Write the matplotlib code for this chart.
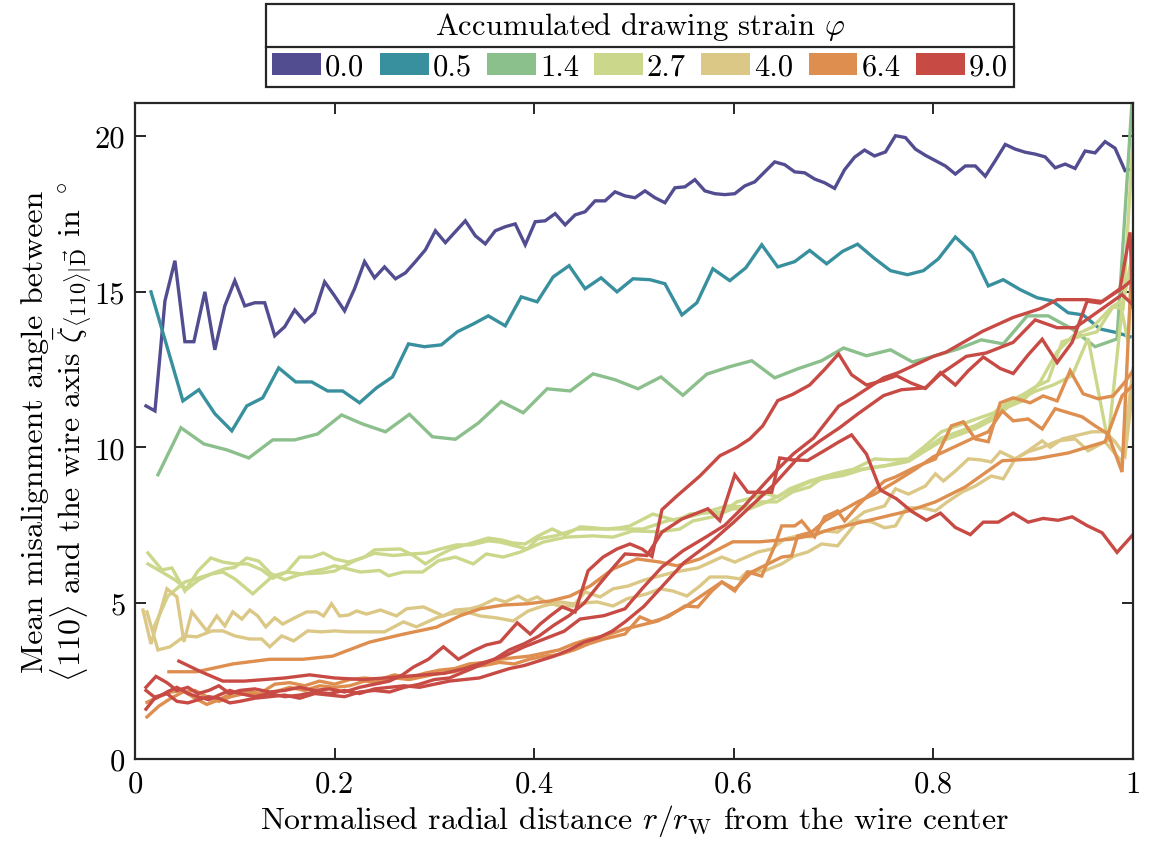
import matplotlib
matplotlib.use("Agg")
import matplotlib.pyplot as plt
from matplotlib.patches import Patch
from matplotlib.lines import Line2D

plt.rcParams['font.family'] = 'serif'
plt.rcParams['font.serif'] = ['cmr10']
plt.rcParams['mathtext.fontset'] = 'cm'
plt.rcParams['axes.formatter.use_mathtext'] = True

# ---- data: (r/rW, mean misalignment angle) ----
strains = ['0.0', '0.5', '1.4', '2.7', '4.0', '6.4', '9.0']
colors = ['#524c91', '#38909f', '#8bbf8b', '#cbd78a', '#dcc886', '#de8e4f', '#c84a44']

phi_00 = [(0.011, 11.33), (0.020, 11.17), (0.030, 14.70), (0.040, 15.99), (0.050, 13.39), (0.059, 13.39),
          (0.070, 14.99), (0.080, 13.13), (0.090, 14.54), (0.100, 15.35), (0.110, 14.54), (0.120, 14.64),
          (0.130, 14.64), (0.140, 13.58), (0.150, 13.87), (0.160, 14.41), (0.170, 14.03), (0.180, 14.32),
          (0.190, 15.31), (0.200, 14.86), (0.210, 14.38), (0.220, 15.09), (0.230, 15.96), (0.240, 15.44),
          (0.250, 15.79), (0.261, 15.41), (0.271, 15.60), (0.281, 15.96), (0.291, 16.34), (0.301, 16.95),
          (0.311, 16.57), (0.321, 16.92), (0.331, 17.27), (0.341, 16.79), (0.351, 16.53), (0.361, 16.95),
          (0.371, 17.08), (0.381, 17.17), (0.391, 16.50), (0.401, 17.24), (0.411, 17.27), (0.421, 17.50),
          (0.431, 17.14), (0.441, 17.46), (0.451, 17.56), (0.461, 17.91), (0.471, 17.91), (0.481, 18.20),
          (0.491, 18.07), (0.501, 18.01), (0.511, 18.23), (0.521, 18.01), (0.531, 17.85), (0.541, 18.33),
          (0.551, 18.36), (0.561, 18.59), (0.571, 18.23), (0.581, 18.14), (0.591, 18.11), (0.601, 18.14),
          (0.611, 18.39), (0.621, 18.52), (0.631, 18.84), (0.641, 19.16), (0.651, 19.07), (0.661, 18.84),
          (0.671, 18.81), (0.681, 18.61), (0.691, 18.49), (0.701, 18.31), (0.711, 18.91), (0.721, 19.31),
          (0.731, 19.54), (0.741, 19.35), (0.752, 19.48), (0.762, 20.00), (0.772, 19.94), (0.782, 19.57),
          (0.792, 19.37), (0.802, 19.20), (0.812, 19.03), (0.822, 18.77), (0.832, 19.03), (0.842, 19.03),
          (0.852, 18.70), (0.862, 19.20), (0.872, 19.72), (0.882, 19.57), (0.892, 19.47), (0.902, 19.41),
          (0.912, 19.32), (0.922, 18.97), (0.932, 19.09), (0.942, 18.95), (0.952, 19.51), (0.962, 19.45),
          (0.972, 19.81), (0.982, 19.60), (0.992, 18.88), (1.000, 18.94)]

phi_05 = [(0.016, 14.99), (0.048, 11.49), (0.064, 11.85), (0.080, 11.08), (0.097, 10.53), (0.112, 11.33),
          (0.128, 11.59), (0.144, 12.55), (0.161, 12.10), (0.177, 12.10), (0.193, 11.81), (0.208, 11.81),
          (0.225, 11.43), (0.242, 11.91), (0.258, 12.26), (0.274, 13.32), (0.290, 13.23), (0.307, 13.29),
          (0.323, 13.71), (0.339, 13.96), (0.354, 14.22), (0.371, 13.90), (0.387, 14.83), (0.403, 14.67),
          (0.419, 15.47), (0.435, 15.83), (0.451, 15.09), (0.467, 15.44), (0.483, 14.99), (0.499, 15.41),
          (0.516, 15.38), (0.531, 15.25), (0.548, 14.25), (0.563, 14.64), (0.579, 15.73), (0.596, 15.35),
          (0.612, 15.76), (0.628, 16.50), (0.644, 15.79), (0.661, 15.96), (0.676, 16.32), (0.693, 15.89),
          (0.709, 16.29), (0.724, 16.52), (0.741, 16.06), (0.757, 15.67), (0.774, 15.54), (0.790, 15.67),
          (0.805, 16.05), (0.822, 16.75), (0.839, 16.24), (0.855, 15.18), (0.870, 15.38), (0.887, 15.06),
          (0.904, 14.80), (0.919, 14.70), (0.935, 14.32), (0.950, 14.25), (0.967, 13.80), (0.984, 13.68),
          (0.997, 13.55)]

phi_14 = [(0.023, 9.12), (0.046, 10.63), (0.069, 10.11), (0.092, 9.92), (0.114, 9.66), (0.138, 10.24),
          (0.160, 10.24), (0.183, 10.43), (0.207, 11.04), (0.228, 10.75), (0.251, 10.50), (0.275, 11.06),
          (0.298, 10.34), (0.321, 10.26), (0.344, 10.78), (0.367, 11.47), (0.389, 11.11), (0.413, 11.88),
          (0.436, 11.81), (0.459, 12.36), (0.481, 12.17), (0.504, 11.88), (0.527, 12.26), (0.549, 11.67),
          (0.573, 12.35), (0.595, 12.58), (0.618, 12.78), (0.641, 12.23), (0.664, 12.52), (0.688, 12.78),
          (0.710, 13.19), (0.733, 12.94), (0.757, 13.13), (0.779, 12.74), (0.802, 12.94), (0.825, 13.16),
          (0.848, 13.45), (0.870, 13.32), (0.894, 14.22), (0.915, 14.22), (0.939, 13.80), (0.962, 13.23),
          (0.984, 13.48), (1.000, 21.60)]

phi_27_a = [(0.013, 6.61), (0.027, 6.07), (0.037, 6.13), (0.050, 5.39), (0.063, 6.03), (0.076, 6.45),
            (0.088, 6.32), (0.100, 6.26), (0.113, 6.26), (0.127, 6.07), (0.138, 5.80), (0.152, 6.00),
            (0.165, 6.48), (0.177, 6.48), (0.189, 6.61), (0.200, 6.42), (0.214, 6.32), (0.230, 6.48),
            (0.240, 6.71), (0.266, 6.74), (0.279, 6.53), (0.291, 6.26), (0.304, 6.53), (0.317, 6.74),
            (0.334, 6.90), (0.354, 7.09), (0.367, 7.03), (0.379, 6.93), (0.391, 6.90), (0.404, 7.16),
            (0.418, 7.38), (0.431, 7.19), (0.446, 7.45), (0.459, 7.42), (0.473, 7.38), (0.486, 7.42),
            (0.496, 7.48), (0.519, 7.86), (0.543, 7.64), (0.556, 7.86), (0.589, 7.93), (0.603, 8.25),
            (0.633, 8.51), (0.644, 8.41), (0.656, 8.67), (0.676, 8.92), (0.700, 9.15), (0.720, 9.30),
            (0.741, 9.63), (0.758, 9.60), (0.775, 9.63), (0.790, 10.00), (0.808, 10.50), (0.825, 10.70),
            (0.842, 10.90), (0.860, 11.10), (0.875, 11.46), (0.890, 11.70), (0.902, 11.94), (0.915, 12.14),
            (0.929, 13.39), (0.949, 13.58), (0.964, 13.71), (0.980, 14.51), (0.990, 14.45), (1.000, 19.90)]

phi_27_b = [(0.013, 6.26), (0.027, 6.00), (0.040, 5.75), (0.052, 5.45), (0.064, 5.75), (0.077, 5.95),
            (0.090, 6.10), (0.100, 6.15), (0.112, 6.45), (0.124, 6.35), (0.136, 5.95), (0.150, 5.75),
            (0.163, 5.90), (0.175, 6.00), (0.190, 6.10), (0.200, 6.20), (0.213, 6.10), (0.226, 6.00),
            (0.245, 6.05), (0.254, 5.88), (0.269, 6.00), (0.288, 6.00), (0.304, 6.36), (0.321, 6.48),
            (0.339, 6.26), (0.352, 6.58), (0.369, 6.48), (0.386, 6.64), (0.409, 6.96), (0.432, 7.12),
            (0.459, 7.16), (0.479, 7.12), (0.499, 7.32), (0.526, 7.29), (0.546, 7.38), (0.559, 7.64),
            (0.579, 7.77), (0.599, 8.03), (0.616, 8.03), (0.633, 8.25), (0.653, 8.57), (0.676, 8.89),
            (0.691, 9.00), (0.710, 9.10), (0.730, 9.30), (0.751, 9.40), (0.775, 9.60), (0.790, 9.90),
            (0.808, 10.30), (0.825, 10.50), (0.842, 10.70), (0.860, 11.00), (0.875, 11.40), (0.890, 11.60),
            (0.902, 11.80), (0.920, 12.00), (0.939, 12.30), (0.955, 13.50), (0.975, 10.18), (0.989, 14.45),
            (1.000, 16.30)]

phi_27_c = [(0.018, 4.17), (0.033, 5.23), (0.050, 5.68), (0.077, 5.94), (0.088, 6.00), (0.100, 5.78),
            (0.118, 5.30), (0.138, 5.87), (0.152, 6.00), (0.167, 5.94), (0.187, 5.97), (0.200, 6.03),
            (0.220, 6.36), (0.240, 6.60), (0.259, 6.53), (0.277, 6.58), (0.292, 6.61), (0.306, 6.74),
            (0.322, 6.87), (0.337, 6.87), (0.354, 7.00), (0.366, 6.96), (0.393, 6.74), (0.403, 7.06),
            (0.421, 7.16), (0.443, 7.38), (0.476, 7.38), (0.509, 7.38), (0.533, 7.64), (0.559, 7.80),
            (0.593, 8.12), (0.613, 8.09), (0.626, 8.25), (0.643, 8.25), (0.659, 8.57), (0.676, 8.73),
            (0.690, 9.05), (0.705, 9.10), (0.720, 9.25), (0.741, 9.37), (0.760, 9.45), (0.775, 9.55),
            (0.790, 9.85), (0.808, 10.20), (0.825, 10.40), (0.842, 10.60), (0.860, 10.90), (0.875, 11.30),
            (0.890, 11.50), (0.907, 12.10), (0.924, 13.07), (0.940, 13.58), (0.960, 13.87), (0.979, 14.51),
            (0.987, 14.67), (0.995, 13.39), (1.000, 16.00)]

phi_40_a = [(0.008, 4.78), (0.016, 3.69), (0.032, 5.46), (0.042, 5.20), (0.049, 3.76), (0.057, 4.72),
            (0.072, 4.11), (0.082, 4.59), (0.090, 4.27), (0.098, 4.72), (0.107, 4.49), (0.115, 4.78),
            (0.123, 4.59), (0.131, 4.24), (0.140, 4.53), (0.148, 4.33), (0.160, 4.53), (0.172, 4.72),
            (0.182, 4.72), (0.189, 4.59), (0.197, 4.98), (0.205, 4.59), (0.214, 4.62), (0.222, 4.75),
            (0.232, 4.65), (0.246, 4.78), (0.262, 4.59), (0.272, 4.82), (0.289, 4.88), (0.309, 4.59),
            (0.321, 4.78), (0.336, 4.82), (0.346, 4.91), (0.361, 5.14), (0.371, 5.04), (0.384, 5.23),
            (0.393, 5.07), (0.403, 5.20), (0.413, 5.01), (0.426, 4.91), (0.439, 4.91), (0.451, 5.36),
            (0.466, 5.20), (0.479, 5.46), (0.494, 5.55), (0.511, 5.75), (0.541, 6.00), (0.564, 6.13),
            (0.588, 6.48), (0.601, 6.32), (0.624, 6.64), (0.638, 6.74), (0.651, 7.06), (0.664, 7.16),
            (0.678, 7.13), (0.691, 7.32), (0.704, 7.28), (0.731, 7.93), (0.751, 8.12), (0.762, 8.67),
            (0.775, 8.50), (0.792, 8.76), (0.802, 9.15), (0.810, 8.92), (0.822, 9.24), (0.835, 9.63),
            (0.847, 9.60), (0.858, 9.53), (0.867, 9.86), (0.882, 9.63), (0.895, 9.89), (0.909, 10.21),
            (0.917, 10.00), (0.929, 10.27), (0.942, 10.37), (0.959, 10.50), (0.972, 10.50), (0.982, 10.18),
            (0.992, 9.73), (1.000, 11.97)]

phi_40_b = [(0.012, 4.72), (0.023, 3.50), (0.035, 3.60), (0.050, 3.95), (0.062, 3.92), (0.077, 4.11),
            (0.088, 4.11), (0.100, 3.95), (0.115, 3.85), (0.127, 3.85), (0.135, 3.60), (0.147, 3.95),
            (0.159, 3.79), (0.173, 4.11), (0.187, 4.08), (0.200, 4.11), (0.214, 4.08), (0.233, 4.08),
            (0.250, 4.08), (0.269, 4.40), (0.282, 4.24), (0.302, 4.53), (0.315, 4.65), (0.332, 4.72),
            (0.346, 4.59), (0.362, 4.53), (0.379, 4.43), (0.394, 4.75), (0.409, 4.91), (0.426, 5.04),
            (0.439, 4.98), (0.463, 5.04), (0.479, 4.91), (0.493, 5.14), (0.513, 5.30), (0.526, 5.46),
            (0.539, 5.39), (0.553, 5.23), (0.566, 5.55), (0.576, 5.84), (0.593, 5.84), (0.606, 5.78),
            (0.613, 6.00), (0.631, 6.04), (0.648, 6.26), (0.661, 6.52), (0.674, 6.64), (0.688, 6.90),
            (0.704, 6.84), (0.724, 7.64), (0.738, 7.61), (0.751, 7.42), (0.762, 7.48), (0.773, 8.06),
            (0.789, 8.06), (0.802, 7.96), (0.814, 8.25), (0.829, 8.57), (0.842, 8.76), (0.858, 9.08),
            (0.870, 8.99), (0.882, 9.63), (0.895, 9.86), (0.909, 10.00), (0.925, 10.21), (0.942, 10.27),
            (0.955, 9.89), (0.972, 10.18), (0.989, 9.53), (1.000, 12.52)]

phi_64_a = [(0.034, 2.80), (0.062, 2.80), (0.098, 3.05), (0.135, 3.20), (0.168, 3.20), (0.198, 3.30),
            (0.235, 3.75), (0.268, 4.00), (0.302, 4.23), (0.326, 4.60), (0.346, 4.82), (0.369, 4.94),
            (0.393, 4.98), (0.416, 5.07), (0.436, 5.23), (0.456, 5.55), (0.479, 6.10), (0.503, 6.42),
            (0.526, 6.32), (0.543, 6.20), (0.566, 6.42), (0.599, 6.97), (0.626, 6.97), (0.659, 7.06),
            (0.676, 7.16), (0.698, 7.38), (0.741, 7.70), (0.775, 7.96), (0.802, 8.25), (0.832, 8.73),
            (0.869, 9.57), (0.902, 9.63), (0.935, 9.82), (0.972, 10.18), (0.989, 11.65), (1.000, 12.00)]

phi_64_b = [(0.012, 1.35), (0.024, 1.70), (0.036, 1.95), (0.048, 2.15), (0.060, 2.20), (0.072, 2.00),
            (0.084, 1.85), (0.096, 2.00), (0.110, 2.10), (0.125, 2.05), (0.140, 2.15), (0.155, 2.30),
            (0.170, 2.20), (0.185, 2.35), (0.200, 2.30), (0.215, 2.35), (0.230, 2.50), (0.245, 2.45),
            (0.260, 2.60), (0.275, 2.55), (0.290, 2.65), (0.305, 2.75), (0.320, 2.80), (0.335, 2.95),
            (0.350, 3.00), (0.365, 3.10), (0.380, 3.05), (0.395, 3.20), (0.410, 3.30), (0.425, 3.35),
            (0.440, 3.50), (0.455, 3.70), (0.470, 3.85), (0.491, 4.01), (0.506, 4.56), (0.518, 4.40),
            (0.534, 4.56), (0.551, 4.91), (0.564, 4.88), (0.578, 5.39), (0.588, 5.68), (0.601, 5.39),
            (0.614, 6.00), (0.628, 5.87), (0.641, 6.84), (0.648, 7.48), (0.661, 7.48), (0.668, 7.64),
            (0.681, 7.13), (0.691, 7.77), (0.704, 7.96), (0.711, 7.64), (0.724, 8.12), (0.731, 8.35),
            (0.751, 8.92), (0.762, 9.05), (0.782, 9.37), (0.802, 9.63), (0.818, 10.69), (0.830, 10.82),
            (0.842, 10.27), (0.855, 10.18), (0.867, 11.43), (0.880, 11.59), (0.897, 11.43), (0.910, 11.65),
            (0.924, 11.49), (0.937, 12.46), (0.950, 11.72), (0.965, 11.56), (0.980, 11.65), (0.992, 12.10),
            (1.000, 12.46)]

phi_64_c = [(0.012, 1.82), (0.024, 2.00), (0.036, 2.15), (0.048, 2.20), (0.060, 1.95), (0.072, 1.75),
            (0.084, 1.90), (0.096, 2.10), (0.110, 2.20), (0.125, 2.10), (0.140, 2.40), (0.155, 2.45),
            (0.170, 2.35), (0.185, 2.50), (0.200, 2.40), (0.215, 2.55), (0.230, 2.60), (0.245, 2.55),
            (0.260, 2.70), (0.275, 2.60), (0.290, 2.75), (0.305, 2.85), (0.320, 2.90), (0.335, 3.05),
            (0.350, 3.10), (0.365, 3.20), (0.380, 3.25), (0.395, 3.30), (0.410, 3.40), (0.425, 3.50),
            (0.440, 3.70), (0.455, 3.85), (0.470, 3.95), (0.491, 4.17), (0.524, 4.43), (0.551, 4.88),
            (0.588, 5.68), (0.601, 5.45), (0.618, 6.00), (0.648, 6.48), (0.658, 6.52), (0.664, 7.16),
            (0.678, 7.28), (0.691, 7.64), (0.708, 7.96), (0.724, 8.25), (0.741, 8.50), (0.762, 8.90),
            (0.782, 9.30), (0.800, 9.70), (0.820, 10.00), (0.840, 10.30), (0.855, 10.50), (0.869, 11.17),
            (0.880, 10.85), (0.895, 10.91), (0.909, 10.59), (0.922, 11.24), (0.949, 10.98), (0.962, 10.69),
            (0.975, 10.43), (0.989, 9.21), (1.000, 16.80)]

phi_90_a = [(0.011, 2.30), (0.021, 2.65), (0.032, 2.45), (0.042, 2.20), (0.053, 2.30), (0.063, 2.10),
            (0.074, 2.20), (0.084, 2.35), (0.095, 2.10), (0.105, 2.20), (0.120, 2.25), (0.135, 2.15),
            (0.150, 2.20), (0.165, 2.30), (0.180, 2.20), (0.195, 2.25), (0.210, 2.15), (0.225, 2.30),
            (0.240, 2.40), (0.255, 2.50), (0.268, 2.70), (0.279, 2.95), (0.294, 3.20), (0.309, 3.60),
            (0.324, 3.20), (0.339, 3.47), (0.352, 3.66), (0.366, 3.76), (0.383, 4.37), (0.396, 4.01),
            (0.406, 4.33), (0.416, 4.59), (0.428, 4.88), (0.441, 4.72), (0.454, 6.04), (0.469, 6.48),
            (0.483, 6.74), (0.496, 6.90), (0.508, 6.74), (0.518, 6.50), (0.528, 8.00), (0.543, 8.44),
            (0.566, 9.08), (0.586, 9.73), (0.603, 10.00), (0.616, 10.27), (0.629, 10.69), (0.644, 11.50),
            (0.659, 11.70), (0.676, 12.00), (0.691, 12.50), (0.705, 13.00), (0.718, 12.33), (0.733, 12.00),
            (0.750, 12.15), (0.763, 12.30), (0.778, 12.06), (0.792, 11.89), (0.807, 12.40), (0.822, 12.00),
            (0.835, 12.46), (0.850, 12.90), (0.867, 12.53), (0.880, 12.37), (0.895, 12.97), (0.909, 13.47),
            (0.924, 12.72), (0.939, 13.37), (0.954, 14.69), (0.967, 14.63), (0.987, 15.09), (0.997, 16.90),
            (1.000, 14.50)]

phi_90_b = [(0.011, 1.60), (0.021, 2.00), (0.032, 2.10), (0.042, 1.85), (0.053, 1.80), (0.063, 1.90),
            (0.074, 2.00), (0.084, 1.95), (0.095, 1.80), (0.105, 1.85), (0.120, 1.95), (0.135, 2.00),
            (0.150, 2.05), (0.165, 1.95), (0.180, 2.10), (0.195, 2.05), (0.210, 2.00), (0.225, 2.15),
            (0.240, 2.20), (0.255, 2.15), (0.270, 2.30), (0.285, 2.40), (0.300, 2.55), (0.315, 2.60),
            (0.330, 2.80), (0.345, 3.00), (0.360, 3.20), (0.375, 3.50), (0.390, 3.70), (0.405, 3.95),
            (0.420, 4.30), (0.435, 4.60), (0.450, 5.00), (0.465, 5.60), (0.478, 6.10), (0.491, 6.58),
            (0.513, 6.53), (0.528, 7.28), (0.548, 7.70), (0.574, 8.03), (0.586, 7.65), (0.601, 9.12),
            (0.614, 8.56), (0.638, 8.56), (0.646, 9.66), (0.658, 9.60), (0.674, 9.58), (0.691, 9.90),
            (0.705, 10.17), (0.718, 10.40), (0.733, 9.78), (0.747, 8.63), (0.763, 8.35), (0.778, 7.95),
            (0.793, 7.66), (0.807, 7.89), (0.822, 7.43), (0.837, 7.20), (0.850, 7.60), (0.865, 7.60),
            (0.880, 7.89), (0.895, 7.60), (0.910, 7.72), (0.925, 7.66), (0.939, 7.77), (0.954, 7.49),
            (0.969, 7.26), (0.984, 6.63), (1.000, 7.20)]

phi_90_c = [(0.044, 3.14), (0.066, 2.80), (0.088, 2.50), (0.110, 2.50), (0.130, 2.55), (0.150, 2.60),
            (0.175, 2.70), (0.200, 2.60), (0.229, 2.55), (0.250, 2.60), (0.270, 2.65), (0.290, 2.70),
            (0.310, 2.75), (0.330, 2.90), (0.350, 3.10), (0.370, 3.30), (0.390, 3.60), (0.410, 3.85),
            (0.430, 4.10), (0.446, 4.49), (0.470, 4.60), (0.491, 4.82), (0.508, 5.46), (0.528, 6.16),
            (0.549, 6.68), (0.574, 7.16), (0.591, 7.50), (0.610, 8.10), (0.624, 8.60), (0.644, 9.30),
            (0.660, 9.80), (0.680, 10.30), (0.705, 11.32), (0.720, 11.60), (0.750, 12.23), (0.765, 12.40),
            (0.800, 12.92), (0.813, 13.06), (0.849, 13.72), (0.880, 14.17), (0.907, 14.45), (0.924, 14.74),
            (0.954, 14.74), (0.969, 14.68), (0.989, 15.10), (1.000, 15.40)]

phi_90_d = [(0.011, 2.20), (0.021, 1.95), (0.032, 2.15), (0.042, 2.30), (0.053, 2.10), (0.063, 2.00),
            (0.074, 1.90), (0.084, 2.05), (0.095, 2.20), (0.105, 2.10), (0.120, 2.00), (0.135, 2.10),
            (0.150, 2.00), (0.165, 2.05), (0.180, 2.15), (0.195, 2.10), (0.210, 2.20), (0.225, 2.10),
            (0.240, 2.25), (0.255, 2.30), (0.270, 2.35), (0.285, 2.30), (0.300, 2.40), (0.315, 2.50),
            (0.330, 2.55), (0.345, 2.60), (0.360, 2.75), (0.375, 2.90), (0.390, 3.00), (0.405, 3.15),
            (0.420, 3.30), (0.435, 3.50), (0.450, 3.75), (0.465, 3.90), (0.478, 4.10), (0.491, 4.40),
            (0.510, 4.90), (0.530, 5.60), (0.550, 6.30), (0.575, 6.90), (0.600, 7.60), (0.620, 8.20),
            (0.640, 8.80), (0.666, 9.72), (0.686, 10.20), (0.706, 10.63), (0.725, 11.09), (0.750, 11.66),
            (0.768, 11.85), (0.792, 11.91), (0.807, 12.35), (0.833, 12.92), (0.853, 13.03), (0.880, 13.37),
            (0.902, 14.09), (0.924, 13.84), (0.942, 13.84), (0.959, 14.22), (0.989, 14.90), (1.000, 14.57)]

series = [
    ('0.0', [phi_00]),
    ('0.5', [phi_05]),
    ('1.4', [phi_14]),
    ('2.7', [phi_27_a, phi_27_b, phi_27_c]),
    ('4.0', [phi_40_a, phi_40_b]),
    ('6.4', [phi_64_a, phi_64_b, phi_64_c]),
    ('9.0', [phi_90_a, phi_90_b, phi_90_c, phi_90_d]),
]

fig = plt.figure(figsize=(11.49, 8.45), dpi=100)
ax = fig.add_axes([135 / 1149, 1 - 760 / 845, 998 / 1149, 656 / 845])

for (label, lines), col in zip(series, colors):
    for pts in lines:
        xs, ys = zip(*pts)
        ax.plot(xs, ys, color=col, lw=2.4, solid_joinstyle='miter')

ax.set_xlim(0, 1)
ax.set_ylim(0, 21.05)
ax.set_xticks([0, 0.2, 0.4, 0.6, 0.8, 1.0])
ax.set_xticklabels(['0', '0.2', '0.4', '0.6', '0.8', '1'])
ax.set_yticks([0, 5, 10, 15, 20])
ax.set_yticklabels(['0', '5', '10', '15', '20'])
ax.tick_params(direction='in', length=8, width=1.4, top=True, right=True,
               labelsize=22, pad=8, color='#262626')
ax.tick_params(axis='y', pad=7)
for sp in ax.spines.values():
    sp.set_linewidth(1.6)
    sp.set_color('#262626')

ax.set_xlabel(r'Normalised radial distance $r/r_\mathrm{W}$ from the wire center', fontsize=23, labelpad=3)
ax.set_ylabel('Mean misalignment angle between\n'
              r'$\langle 110\rangle$ and the wire axis $\bar{\zeta}_{\langle 110\rangle|\vec{\mathrm{D}}}$ in $^\circ$',
              fontsize=23, labelpad=1, linespacing=1.0)

handles = [Patch(facecolor=c, edgecolor='none') for c in colors]
leg = fig.legend(handles, strains, loc='upper center', bbox_to_anchor=(640 / 1149, 1 - 5 / 845),
                 ncol=7, title=r'Accumulated drawing strain $\varphi$', fontsize=22, title_fontsize=22,
                 frameon=True, fancybox=False, edgecolor='#262626', framealpha=1,
                 handlelength=1.6, handleheight=0.75, handletextpad=0.13, columnspacing=0.5,
                 borderpad=0.2, labelspacing=0.35, borderaxespad=0)
leg.get_frame().set_linewidth(1.6)

# divider line between legend title and entries
fig.canvas.draw()
r = fig.canvas.get_renderer()
lb = leg.get_window_extent(r)
tb = leg.get_title().get_window_extent(r)
hb = leg._legend_handle_box.get_window_extent(r)
W, H = fig.get_size_inches() * fig.dpi
ydiv = (tb.y0 + hb.y1) / 2 / H
fig.add_artist(Line2D([lb.x0 / W, lb.x1 / W], [ydiv, ydiv], color='#262626', lw=1.6, zorder=10))

fig.savefig('out.png', dpi=100)
